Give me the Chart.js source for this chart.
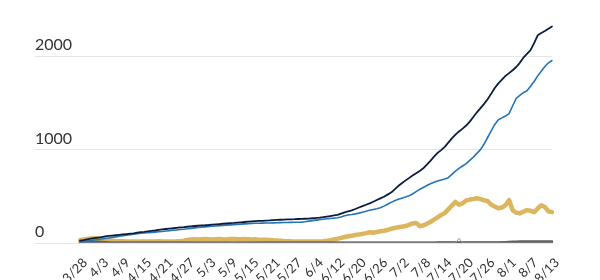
<!DOCTYPE html>
<html><head><meta charset="utf-8">
<script src="https://cdn.jsdelivr.net/npm/chart.js@4"></script>
<style>html,body{margin:0;padding:0;background:#fff}</style>
</head><body>
<canvas id="c" width="600" height="280"></canvas>
<script>
const dates = ["3/28","3/29","3/30","3/31",
"4/1","4/2","4/3","4/4","4/5","4/6","4/7","4/8","4/9","4/10","4/11","4/12","4/13","4/14","4/15","4/16","4/17","4/18","4/19","4/20","4/21","4/22","4/23","4/24","4/25","4/26","4/27","4/28","4/29","4/30",
"5/1","5/2","5/3","5/4","5/5","5/6","5/7","5/8","5/9","5/10","5/11","5/12","5/13","5/14","5/15","5/16","5/17","5/18","5/19","5/20","5/21","5/22","5/23","5/24","5/25","5/26","5/27",
"5/28","5/29","5/31","6/1","6/3","6/4","6/5","6/6","6/8","6/9","6/11","6/12","6/13","6/14","6/16","6/17","6/19","6/20",
"6/21","6/22","6/23","6/24","6/25","6/26","6/27","6/28","6/29","6/30",
"7/1","7/2","7/3","7/4","7/5","7/6","7/7","7/8","7/9","7/10","7/11","7/12","7/13","7/14","7/15","7/16","7/17","7/18","7/19","7/20","7/21","7/22","7/23","7/24","7/25","7/26","7/27","7/28","7/29","7/30","7/31",
"8/1","8/2","8/3","8/4","8/5","8/6","8/7","8/8","8/9","8/10","8/11","8/12","8/13"];

const labelEvery = 6;
const yTicks = [0, 1000, 2000];

const navy = [25,32,40,46,52,58,63,70,76,80,
84,88,92,96,100,104,110,116,120,125,
130,134,140,145,150,154,158,163,167,170,
174,178,182,185,188,190,193,197,200,203,
206,209,212,215,219,222,225,228,231,234,
236,238,240,242,245,247,249,250,252,254,
255,257,258,260,262,265,268,272,277,283,
289,295,302,315,328,340,350,364,380,395,
410,425,442,460,478,495,518,540,575,610,
640,668,695,722,748,772,800,840,880,925,
965,995,1030,1075,1120,1160,1195,1225,1258,1300,
1350,1400,1445,1490,1540,1600,1660,1710,1750,1790,
1820,1850,1885,1930,1985,2025,2065,2140,2225,2250,
2270,2295,2320];

const blue = [12,16,21,26,32,37,42,48,54,60,
66,72,78,84,89,94,99,104,107,109,
112,116,120,124,128,132,136,140,144,148,
152,157,162,166,170,173,176,179,182,185,
188,191,194,197,200,202,205,208,210,211,
212,213,214,215,216,217,218,219,220,221,
222,223,224,228,234,240,245,250,255,260,
263,266,270,278,292,300,305,312,320,330,
340,350,358,366,378,395,415,435,452,468,
480,492,505,525,550,575,595,615,635,650,
665,675,685,700,735,770,800,825,850,885,
920,960,1000,1060,1130,1200,1270,1320,1340,1360,
1385,1470,1550,1580,1610,1630,1680,1730,1790,1840,
1890,1930,1955];

const gold = [30,38,44,48,50,48,42,35,28,24,
21,19,18,17,17,16,17,16,16,17,
16,17,18,17,17,16,17,18,20,25,
32,38,40,38,40,42,40,38,41,43,
40,38,42,44,41,39,42,40,37,39,
36,34,36,33,30,28,25,22,20,18,
17,16,15,16,15,16,15,17,20,24,
30,38,46,55,64,72,78,85,92,98,
106,115,110,118,125,132,140,152,160,168,
175,182,195,210,215,180,188,205,225,250,
275,300,320,360,400,440,410,425,455,465,
472,480,470,458,450,410,390,372,380,405,
460,350,325,318,335,352,345,330,370,405,
385,340,330];

const green = [28,36,42,46,48,46,40,33,26,22,
19,17,16,15,15,14,15,14,14,15,
14,15,16,15,15,14,15,16,18,23,
30,36,38,36,38,40,38,36,39,41,
38,36,40,42,39,37,40,38,35,37,
34,32,34,31,28,26,23,20,18,16,
15,14,13,14,13,14,13,15,18,22,
28,36,44,53,62,70,76,83,90,96,
104,112,108,116,122,130,138,150,158,165,
172,180,192,206,212,178,186,202,222,246,
270,295,318,368,420,430,405,420,448,460,
468,475,465,452,442,405,385,366,374,398,
445,342,312,305,330,348,340,322,360,395,
378,335,325];

const teal = [3,7,11,13,14,13,11,8,5,3,
3,2,2,2,2,2,2,2,2,2,
2,2,2,2,2,2,2,2,2,2,
2,2,2,2,2,2,2,2,2,2,
2,2,2,2,2,2,2,2,2,2,
2,2,2,2,2,2,2,2,2,2,
3,3,3,3,3,3,3,3,3,3,
3,3,3,3,3,3,4,4,4,4,
4,4,4,4,4,4,4,4,4,4,
4,4,4,4,4,4,4,4,4,4,
5,5,5,5,5,5,5,5,5,5,
5,5,5,5,5,5,5,5,5,5,
6,6,6,6,6,6,6,6,6,6,
6,6,6];

const gray = [0,0,0,0,0,0,0,0,0,0,
0,0,0,0,0,0,0,0,0,0,
0,0,0,0,0,0,0,0,0,0,
0,0,0,0,0,0,0,0,0,0,
0,0,0,0,0,0,0,0,0,0,
0,0,0,0,0,0,0,0,0,0,
0,0,0,0,0,0,0,0,0,0,
0,0,0,0,0,0,0,0,0,0,
0,0,0,0,0,0,0,0,0,0,
0,0,0,0,0,0,0,0,0,0,
0,0,0,0,0,0,0,0,0,0,
1,1,1,1,1,1,1,1,5,8,
11,13,14,15,15,16,15,16,17,16,
17,17,16];

const lightGray = [0,0,0,0,0,0,0,0,0,0,
0,0,0,0,0,0,0,0,0,0,
0,0,0,0,0,0,0,0,0,0,
0,0,0,0,0,0,0,0,0,0,
0,0,0,0,0,0,0,0,0,0,
0,0,0,0,0,0,0,0,0,0,
0,0,0,0,0,0,0,0,0,0,
0,0,0,0,0,0,0,0,0,0,
0,0,0,0,0,0,0,0,0,0,
0,0,0,0,0,0,0,0,0,0,
0,0,0,0,0,0,50,0,0,0,
0,0,0,0,0,0,0,0,0,0,
0,0,0,0,0,0,0,0,0,0,
0,0,0];

function ds(data, color, width) {
  return { data, borderColor: color, backgroundColor: color, borderWidth: width,
           pointRadius: 0, tension: 0, fill: false, borderJoinStyle: 'round', borderCapStyle: 'round' };
}

new Chart(document.getElementById('c'), {
  type: 'line',
  data: {
    labels: dates,
    datasets: [
      ds(navy, '#0c1c3f', 1.8),
      ds(blue, '#2674b5', 1.6),
      ds(lightGray, '#9a9a9a', 1),
      ds(gray, '#5f5f5f', 2.5),
      ds(teal, '#45695f', 2.5),
      ds(gold, '#dcb65e', 4.5),
      ds(green, '#3c9a5c', 1.5)
    ]
  },
  options: {
    responsive: false,
    animation: false,
    devicePixelRatio: 1,
    layout: { padding: { left: 35, right: 48, top: 8, bottom: 0 } },
    plugins: { legend: { display: false }, tooltip: { enabled: false } },
    scales: {
      x: {
        offset: false,
        grid: { display: false },
        border: { display: false },
        ticks: {
          autoSkip: false, maxRotation: 45, minRotation: 45, padding: 4, labelOffset: 5,
          color: '#333', font: { family: 'Lato', size: 13 },
          callback: (v, i) => (i % labelEvery === 0 ? dates[i] : '')
        },
        afterFit: (a) => { a.height = 37; }
      },
      y: {
        min: 0, max: 2500,
        afterBuildTicks: (a) => { a.ticks = yTicks.map(v => ({ value: v })); },
        grid: { color: '#e6e6e6', lineWidth: 1, tickLength: 45, drawTicks: true },
        border: { display: false },
        ticks: {
          crossAlign: 'far', padding: 0, labelOffset: -11,
          color: '#333', font: { family: 'Lato', size: 16 },
          callback: (v) => String(v)
        },
        afterFit: (a) => { a.width = 45; }
      }
    }
  }
});
</script>
</body></html>
